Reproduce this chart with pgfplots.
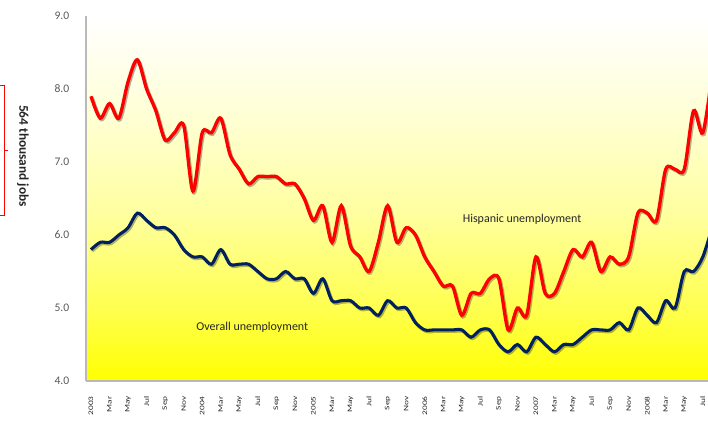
\documentclass[border=0pt]{standalone}
\usepackage{fontspec}
\setmainfont{Carlito}
\usepackage{pgfplots}
\usepackage{pgfplotstable}
\pgfplotsset{compat=1.18}
\definecolor{navy}{RGB}{0,32,96}
\definecolor{bgA}{RGB}{255,255,80}
\definecolor{bgB}{RGB}{255,255,160}
\definecolor{bgC}{RGB}{255,255,215}
\definecolor{tgray}{RGB}{89,89,89}
\definecolor{tdark}{RGB}{38,38,38}
\pgfdeclareverticalshading{bgshade}{100bp}{color(0bp)=(yellow); color(25bp)=(yellow); color(35bp)=(bgA); color(48bp)=(bgB); color(62bp)=(bgC); color(75bp)=(white); color(100bp)=(white)}

\pgfplotstableread{
m v
0 7.9
1 7.6
2 7.8
3 7.6
4 8.1
5 8.4
6 8.0
7 7.7
8 7.3
9 7.4
10 7.5
11 6.6
12 7.4
13 7.4
14 7.6
15 7.1
16 6.9
17 6.7
18 6.8
19 6.8
20 6.8
21 6.7
22 6.7
23 6.5
24 6.2
25 6.4
26 5.9
27 6.4
28 5.85
29 5.7
30 5.5
31 5.9
32 6.4
33 5.9
34 6.1
35 6.0
36 5.7
37 5.5
38 5.3
39 5.3
40 4.9
41 5.2
42 5.2
43 5.4
44 5.4
45 4.7
46 5.0
47 4.9
48 5.7
49 5.2
50 5.2
51 5.5
52 5.8
53 5.7
54 5.9
55 5.5
56 5.7
57 5.6
58 5.7
59 6.3
60 6.3
61 6.2
62 6.9
63 6.9
64 6.9
65 7.7
66 7.4
67 8.2
}\hispanic

\pgfplotstableread{
m v
0 5.8
1 5.9
2 5.9
3 6.0
4 6.1
5 6.3
6 6.2
7 6.1
8 6.1
9 6.0
10 5.8
11 5.7
12 5.7
13 5.6
14 5.8
15 5.6
16 5.6
17 5.6
18 5.5
19 5.4
20 5.4
21 5.5
22 5.4
23 5.4
24 5.2
25 5.4
26 5.1
27 5.1
28 5.1
29 5.0
30 5.0
31 4.9
32 5.1
33 5.0
34 5.0
35 4.8
36 4.7
37 4.7
38 4.7
39 4.7
40 4.7
41 4.6
42 4.7
43 4.7
44 4.5
45 4.4
46 4.5
47 4.4
48 4.6
49 4.5
50 4.4
51 4.5
52 4.5
53 4.6
54 4.7
55 4.7
56 4.7
57 4.8
58 4.7
59 5.0
60 4.9
61 4.8
62 5.1
63 5.0
64 5.5
65 5.5
66 5.7
67 6.1
}\overall

\begin{document}
\begin{tikzpicture}
\begin{axis}[
  name=main,
  scale only axis, width=466.5pt, height=273.75pt,
  xmin=-0.54, xmax=66.56, ymin=4, ymax=9,
  axis lines=left,
  axis line style={-, draw=gray!55, line width=0.8pt},
  axis background/.style={shading=bgshade},
  tick style={draw=none}, major tick length=0pt,
  ytick={4,5,6,7,8,9},
  xtick={0,2,...,66},
  xticklabels={2003,Mar,May,Jul,Sep,Nov,2004,Mar,May,Jul,Sep,Nov,2005,Mar,May,Jul,Sep,Nov,2006,Mar,May,Jul,Sep,Nov,2007,Mar,May,Jul,Sep,Nov,2008,Mar,May,Jul},
  xticklabel style={rotate=90, yscale=0.74, anchor=east, font=\fontsize{7}{8}\selectfont, text=tdark},
  xticklabel shift=8pt,
  /pgf/number format/assume math mode=true,
  yticklabel style={/pgf/number format/.cd, fixed, fixed zerofill, precision=1, /tikz/.cd, font=\fontsize{8.7}{10}\selectfont, text=tgray, xshift=-9pt},
]
\addplot[black, opacity=0.3, line width=2.6pt, smooth, xshift=0.9pt, yshift=-1.1pt] table[x=m, y=v] {\hispanic};
\addplot[black, opacity=0.3, line width=2.4pt, smooth, xshift=0.9pt, yshift=-1.1pt] table[x=m, y=v] {\overall};
\addplot[red, line width=2.5pt, smooth] table[x=m, y=v] {\hispanic};
\addplot[navy, line width=2.3pt, smooth] table[x=m, y=v] {\overall};
\node[font=\fontsize{9}{11}\selectfont, text=tdark] at (axis cs:46.5,6.21) {Hispanic unemployment};
\node[font=\fontsize{9}{11}\selectfont, text=tdark] at (axis cs:17.4,4.74) {Overall unemployment};
\end{axis}
\draw[red, line width=0.6pt] ([shift={(-64.5pt,222pt)}]main.south west) -- ++(3pt,0) -- ([shift={(-61.5pt,124.5pt)}]main.south west) -- ++(-3pt,0);
\draw[red, line width=0.6pt] ([shift={(-61.5pt,173.25pt)}]main.south west) -- ++(3pt,0);
\node[rotate=-90, font=\bfseries\fontsize{10}{12}\selectfont, text=tdark] at ([shift={(-47.25pt,168.75pt)}]main.south west) {564 thousand jobs};
\pgfresetboundingbox
\path[use as bounding box] ([shift={(-64.5pt,-31.5pt)}]main.south west) rectangle ([shift={(0pt,12pt)}]main.north east);
\end{tikzpicture}
\end{document}
